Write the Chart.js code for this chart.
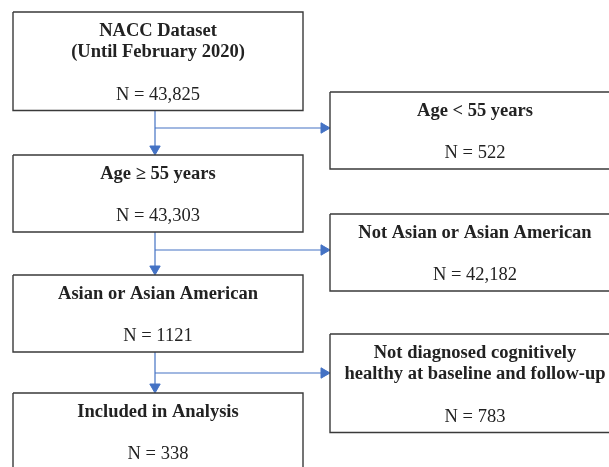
<!DOCTYPE html>
<html>
<head>
<meta charset="utf-8">
<script src="https://cdn.jsdelivr.net/npm/chart.js@4.4.1/dist/chart.umd.min.js"></script>
<style>
  body { margin: 0; background: #fff; }
  canvas { display: block; }
</style>
</head>
<body>
<canvas id="flow" width="609" height="467"></canvas>
<script>
// flowchart content
const stepTitles = [["NACC Dataset", "(Until February 2020)"], ["Age \u2265 55 years"], ["Asian or Asian American"], ["Included in Analysis"]];
const stepCounts = ["43,825", "43,303", "1121", "338"];
const excludedTitles = [["Age < 55 years"], ["Not Asian or Asian American"], ["Not diagnosed cognitively", "healthy at baseline and follow-up"]];
const excludedCounts = ["522", "42,182", "783"];

// layout (pixel units of the page)
const stepBox = { left: 13, right: 303 };
const stepTops = [12, 155, 275, 393];
const excludedBox = { left: 330, right: 620 };
const excludedTops = [92, 214, 334];
const trunkX = 155;
const branchY = [128, 250, 373];
const lineGap = 21.5;
const arrowR = 6;

function boxHeight(lines) { return 77 + lineGap * (lines - 1); }

function rectPoints(l, t, r, b) {
  return [{x: l, y: t}, {x: r, y: t}, {x: r, y: b}, {x: l, y: b}, {x: l, y: t}];
}

const datasets = [];
const boxStyle = { showLine: true, borderColor: "#3a3a3a", borderWidth: 1.4, pointRadius: 0, fill: false, tension: 0 };
const linkStyle = { showLine: true, borderColor: "#4472C4", borderWidth: 1.2, pointRadius: 0, fill: false, tension: 0 };

const boxes = [];
stepTitles.forEach((t, i) => {
  const top = stepTops[i], bottom = top + boxHeight(t.length);
  boxes.push({ left: stepBox.left, right: stepBox.right, top: top, bottom: bottom, title: t, count: stepCounts[i] });
});
excludedTitles.forEach((t, i) => {
  const top = excludedTops[i], bottom = top + boxHeight(t.length);
  boxes.push({ left: excludedBox.left, right: excludedBox.right, top: top, bottom: bottom, title: t, count: excludedCounts[i] });
});
boxes.forEach(b => datasets.push(Object.assign({ data: rectPoints(b.left, b.top, b.right, b.bottom) }, boxStyle)));

// connectors
const arrowPts = [], arrowRot = [];
for (let i = 0; i < stepTops.length - 1; i++) {
  const from = boxes[i].bottom, to = stepTops[i + 1];
  datasets.push(Object.assign({ data: [{x: trunkX, y: from}, {x: trunkX, y: to - arrowR}] }, linkStyle));
  datasets.push(Object.assign({ data: [{x: trunkX, y: branchY[i]}, {x: excludedBox.left - arrowR, y: branchY[i]}] }, linkStyle));
  arrowPts.push({x: trunkX, y: to - arrowR}); arrowRot.push(180);
  arrowPts.push({x: excludedBox.left - arrowR, y: branchY[i]}); arrowRot.push(90);
}
datasets.push({
  data: arrowPts, showLine: false, pointStyle: "triangle", pointRadius: arrowR,
  pointRotation: arrowRot, backgroundColor: "#4472C4", borderColor: "#4472C4", borderWidth: 1
});

const textPlugin = {
  id: "boxText",
  afterDatasetsDraw(chart) {
    const ctx = chart.ctx, xs = chart.scales.x, ys = chart.scales.y;
    ctx.save();
    ctx.fillStyle = "#222";
    ctx.textAlign = "center";
    ctx.textBaseline = "alphabetic";
    boxes.forEach(b => {
      const cx = xs.getPixelForValue((b.left + b.right) / 2);
      ctx.font = "bold 18.5px 'Liberation Serif', 'Times New Roman', serif";
      b.title.forEach((line, k) => {
        ctx.fillText(line, cx, ys.getPixelForValue(b.top + 23.5 + k * lineGap));
      });
      ctx.font = "18.5px 'Liberation Serif', 'Times New Roman', serif";
      ctx.fillText("N = " + b.count, cx, ys.getPixelForValue(b.top + 66 + (b.title.length - 1) * lineGap));
    });
    ctx.restore();
  }
};

new Chart(document.getElementById("flow"), {
  type: "scatter",
  data: { datasets: datasets },
  options: {
    responsive: false,
    animation: false,
    layout: { padding: 0, autoPadding: false },
    plugins: { legend: { display: false }, tooltip: { enabled: false } },
    events: [],
    scales: {
      x: { type: "linear", min: 0, max: 609, display: false },
      y: { type: "linear", min: 0, max: 467, reverse: true, display: false }
    }
  },
  plugins: [textPlugin]
});
</script>
</body>
</html>
